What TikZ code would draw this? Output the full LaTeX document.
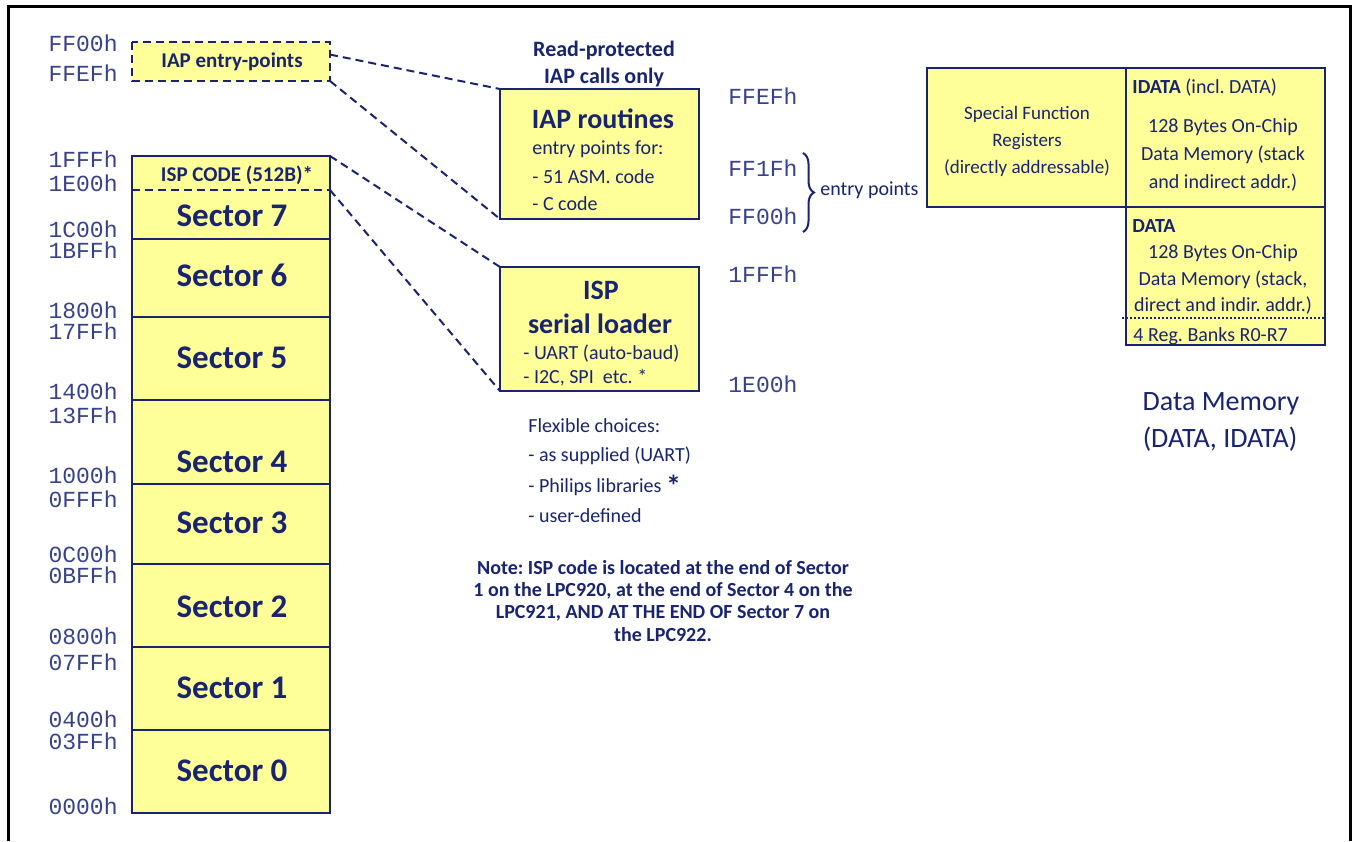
\documentclass[tikz,border=0pt]{standalone}
\usepackage{fontspec}
\setmainfont{Carlito}
\setmonofont{Liberation Mono}
\usetikzlibrary{decorations.pathreplacing}
\definecolor{navy}{RGB}{24,36,112}
\definecolor{addrblue}{RGB}{55,66,140}
\definecolor{cellyellow}{RGB}{255,255,153}
\frenchspacing
\tikzset{
  cell/.style={draw=navy, line width=1pt, fill=cellyellow, inner sep=0pt, outer sep=0pt,
    anchor=north west, minimum width=99pt},
  cellline/.style={draw=navy, line width=1pt},
  dashline/.style={draw=navy, line width=1pt, dash pattern=on 4pt off 2.5pt},
  addr/.style={font=\ttfamily\fontsize{11.5}{12}\selectfont, text=addrblue, inner sep=0pt},
  seclab/.style={font=\bfseries\fontsize{16.5}{18}\selectfont, text=navy, inner sep=0pt, anchor=base},
  bigbold/.style={font=\bfseries\fontsize{14}{16}\selectfont, text=navy, inner sep=0pt, anchor=base},
  headlab/.style={font=\bfseries\fontsize{11}{13}\selectfont, text=navy, inner sep=0pt, anchor=base},
  smallbold/.style={font=\bfseries\fontsize{10.5}{12}\selectfont, text=navy, inner sep=0pt, anchor=base},
  boxtext/.style={font=\fontsize{10}{12}\selectfont, text=navy, inner sep=0pt, anchor=base},
  sfrtext/.style={font=\fontsize{9.5}{11}\selectfont, text=navy, inner sep=0pt, anchor=base},
  notetext/.style={font=\bfseries\fontsize{10}{12}\selectfont, text=navy, inner sep=0pt, anchor=base},
  titletext/.style={font=\fontsize{14}{16}\selectfont, text=navy, inner sep=0pt, anchor=base}
}
\begin{document}
\begin{tikzpicture}[x=0.5pt, y=-0.5pt]
  \useasboundingbox (0,0) rectangle (1352,841);
  \draw[line width=1.5pt] (8.7,841) -- (8.7,6) -- (1350,6) -- (1350,841);

  %% code memory
  \node[cell, draw=none, minimum height=19.5pt] (iapentry) at (132,42) {};
  \draw[dashline] (iapentry.north west) rectangle (iapentry.south east);
  \node[smallbold] (iapentrylab) at (232,67) {IAP entry-points};

  \foreach \n/\t/\b/\l in {6/239/317/286, 5/317/400/368, 4/400/484/472, 3/484/564/533,
                           2/564/647/617, 1/647/730/698, 0/730/813/781}{
    \node[cell, minimum height={(\b-\t)*0.5pt}] (sec\n) at (132,\t) {};
    \node[seclab] (seclab\n) at (232,\l) {Sector \n};
  }

  \node[cell, draw=none, minimum height=17pt] (ispcode) at (132,156) {};
  \node[cell, draw=none, minimum height=24.5pt] (sec7) at (132,190) {};
  \draw[cellline] (ispcode.south west) -- (ispcode.north west) -- (ispcode.north east) -- (ispcode.south east);
  \draw[cellline] (sec7.north west) -- (sec7.south west) -- (sec7.south east) -- (sec7.north east);
  \draw[dashline] (ispcode.south west) -- (ispcode.south east);
  \node[smallbold] (ispcodelab) at (237,181) {ISP CODE (512B)*};
  \node[seclab] (seclab7) at (232,226) {Sector 7};

  \foreach \a/\y in {FF00h/51, FFEFh/81, 1FFFh/167, 1E00h/191, 1C00h/237, 1BFFh/258,
                     1800h/318, 17FFh/339, 1400h/399, 13FFh/423, 1000h/483, 0FFFh/507,
                     0C00h/562, 0BFFh/583, 0800h/644, 07FFh/670, 0400h/727, 03FFh/749, 0000h/814}
    \node[addr, anchor=base east] (adr\a) at (118,\y) {\a};

  %% IAP / ISP
  \node[headlab] (readprot) at (604,56) {Read-protected};
  \node[headlab] (callsonly) at (604,83) {IAP calls only};
  \node[cell, minimum width=99.5pt, minimum height=65pt] (iaproutines) at (500,89) {};
  \node[bigbold] (iaptitle) at (603,128) {IAP routines};
  \node[boxtext, anchor=base west] (iapl1) at (532,154) {entry points for:};
  \node[boxtext, anchor=base west] (iapl2) at (532,183) {- 51 ASM. code};
  \node[boxtext, anchor=base west] (iapl3) at (532,210) {- C code};

  \node[cell, minimum width=99.5pt, minimum height=62pt] (isploader) at (500,267) {};
  \node[bigbold] (isptitle) at (601,299) {ISP};
  \node[bigbold] (isptitle2) at (600,333) {serial loader};
  \node[boxtext, anchor=base west] (ispl1) at (523,359) {- UART (auto-baud)};
  \node[boxtext, anchor=base west] (ispl2) at (523,383) {- I2C, SPI\ \ etc. *};

  \draw[dashline] (iapentry.4) -- (iaproutines.north west);
  \draw[dashline] (iapentry.south east) -- (iaproutines.south west);
  \draw[dashline] (ispcode.north east) -- (isploader.north west);
  \draw[dashline] (ispcode.south east) -- (isploader.south west);

  \foreach \a/\y in {FFEFh/104, FF1Fh/176, FF00h/224, 1FFFh/282, 1E00h/392}
    \node[addr, anchor=base west] (radr\a) at (728,\y) {\a};
  \coordinate (bracetop) at (803,153);
  \coordinate (bracebot) at (803,232);
  \draw[navy, line width=1pt, decorate, decoration={brace, amplitude=5.5pt}] (bracetop) -- (bracebot);
  \node[boxtext, anchor=base west] (entrypts) at (820,195) {entry points};

  \node[boxtext, anchor=base west] (flex0) at (528,432) {Flexible choices:};
  \node[boxtext, anchor=base west] (flex1) at (528,461) {- as supplied (UART)};
  \node[boxtext, anchor=base west] (flex2) at (528,492) {- Philips libraries \raisebox{-2pt}{\fontsize{15}{15}\selectfont\bfseries *}};
  \node[boxtext, anchor=base west] (flex3) at (528,522) {- user-defined};

  \foreach \t [count=\i] in {Note: ISP code is located at the end of Sector,
                             {1 on the LPC920, at the end of Sector 4 on the},
                             {LPC921, AND AT THE END OF Sector 7 on},
                             the LPC922.}
    \node[notetext] (note\i) at (663,552+22.3*\i) {\t};

  %% data memory
  \node[cell, minimum width=99.5pt, minimum height=69.5pt] (sfr) at (927,68) {};
  \node[cell, minimum width=99.5pt, minimum height=69.5pt] (idata) at (1126,68) {};
  \node[cell, minimum width=99.5pt, minimum height=69pt] (data) at (1126,207) {};
  \coordinate (bankl) at (1122,318);
  \coordinate (bankr) at (1326,318);
  \draw[navy, line width=1pt, dash pattern=on 1pt off 1pt] (bankl) -- (bankr);

  \foreach \t [count=\i] in {Special Function, Registers, (directly addressable)}
    \node[sfrtext] (sfrl\i) at (1027,92+27*\i) {\t};
  \node[boxtext, anchor=base west] (idatahead) at (1132,93) {\textbf{IDATA} (incl. DATA)};
  \foreach \t [count=\i] in {128 Bytes On-Chip, Data Memory (stack, and indirect addr.)}
    \node[boxtext] (idatal\i) at (1223,104+28*\i) {\t};
  \node[boxtext, anchor=base west] (datahead) at (1132,232) {\textbf{DATA}};
  \foreach \t [count=\i] in {128 Bytes On-Chip, {Data Memory (stack,}, direct and indir. addr.)}
    \node[boxtext] (datal\i) at (1223,232+26.5*\i) {\t};
  \node[boxtext, anchor=base west] (banks) at (1133,341) {4 Reg. Banks R0-R7};

  \node[titletext] (dmem1) at (1221,410) {Data Memory};
  \node[titletext] (dmem2) at (1220,447) {(DATA, IDATA)};
\end{tikzpicture}
\end{document}
